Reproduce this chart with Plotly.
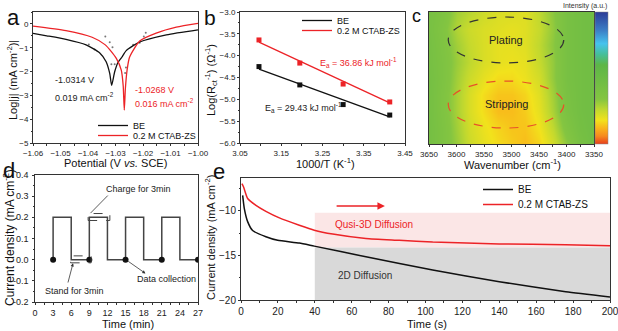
import plotly.graph_objects as go

# ---------------- data ----------------
# (a) Tafel curves
a_be_x = [-1.06, -1.055, -1.048, -1.0407, -1.0358, -1.0334, -1.0321, -1.0314, -1.0303, -1.0291, -1.0277, -1.0261, -1.0212, -1.0115, -1.00]
a_be_y = [-0.40, -0.50, -0.65, -0.88, -1.21, -1.59, -2.08, -2.58, -2.01, -1.62, -1.40, -1.12, -0.76, -0.46, -0.25]
a_ct_x = [-1.06, -1.048, -1.0385, -1.0337, -1.0297, -1.0279, -1.0272, -1.0268, -1.0264, -1.0258, -1.0249, -1.0212, -1.0152, -1.0079, -1.00]
a_ct_y = [-0.09, -0.28, -0.56, -0.88, -1.45, -1.94, -2.6, -3.62, -2.7, -1.95, -1.40, -0.72, -0.39, -0.14, 0.02]
a_raw_x = [-1.0397, -1.0376, -1.0337, -1.0321, -1.0311, -1.0303, -1.0315, -1.0262, -1.0265, -1.0236, -1.0212, -1.0197, -1.0190]
a_raw_y = [-0.86, -1.07, -0.53, -0.77, -0.98, -1.69, -1.69, -1.83, -2.06, -0.88, -0.79, -0.53, -0.37]

# (b) Arrhenius
b_x = [3.096, 3.195, 3.300, 3.413]
b_be_y = [-4.25, -4.67, -5.12, -5.36]
b_ct_y = [-3.64, -4.17, -4.65, -5.06]
b_fit_x = [3.096, 3.413]
b_be_fit = [-4.31, -5.40]
b_ct_fit = [-3.69, -5.08]

# (c) in-situ FTIR map
c_wn = [3650, 3625, 3600, 3575, 3550, 3525, 3500, 3475, 3450, 3425, 3400, 3375, 3350]
c_pos = [0.0, 0.125, 0.25, 0.375, 0.5, 0.625, 0.75, 0.875, 1.0]
c_z = [
    [0.44, 0.38, 0.31, 0.24, 0.20, 0.17, 0.15, 0.13, 0.16, 0.23, 0.33, 0.42, 0.47],
    [0.44, 0.38, 0.30, 0.23, 0.19, 0.16, 0.14, 0.14, 0.18, 0.26, 0.37, 0.44, 0.47],
    [0.44, 0.37, 0.29, 0.22, 0.17, 0.13, 0.13, 0.15, 0.20, 0.29, 0.40, 0.45, 0.47],
    [0.44, 0.37, 0.29, 0.22, 0.17, 0.14, 0.14, 0.16, 0.21, 0.30, 0.41, 0.45, 0.47],
    [0.44, 0.38, 0.30, 0.24, 0.20, 0.17, 0.17, 0.19, 0.23, 0.32, 0.42, 0.45, 0.47],
    [0.43, 0.38, 0.31, 0.26, 0.22, 0.20, 0.19, 0.20, 0.25, 0.32, 0.42, 0.45, 0.47],
    [0.43, 0.37, 0.30, 0.25, 0.22, 0.20, 0.20, 0.21, 0.26, 0.33, 0.42, 0.45, 0.47],
    [0.42, 0.36, 0.28, 0.24, 0.22, 0.21, 0.20, 0.21, 0.25, 0.32, 0.42, 0.45, 0.47],
    [0.42, 0.38, 0.30, 0.27, 0.24, 0.22, 0.22, 0.21, 0.26, 0.33, 0.42, 0.45, 0.47],
]

# (d) pulse protocol
d_t = [3, 3, 6, 9, 12, 15, 18, 21, 24, 27]
d_j = [0.0, 0.2, 0.0, 0.2, 0.0, 0.2, 0.0, 0.2, 0.0, 0.0]
d_pts_t = [3, 9, 15, 21, 27]
d_pts_j = [0, 0, 0, 0, 0]
d_yticks = [-0.2, -0.1, 0.0, 0.1, 0.2, 0.3, 0.4]
d_ytext = ["-0.2", "-0.1", "0.0", "0.1", "0.2", "0.3", "0.4"]

# (e) chronoamperometry
e_be_t = [0.9, 1.8, 3.6, 6.3, 13.5, 19.9, 31.6, 39.7, 67.7, 103.9, 140, 176, 200]
e_be_j = [-8.25, -9.74, -11.2, -12.2, -12.9, -13.3, -13.6, -13.95, -15.15, -16.64, -17.95, -19.07, -19.66]
e_ct_t = [0.5, 1.4, 3.6, 8.1, 13.5, 20.8, 31.6, 39.7, 49.7, 67.7, 85.8, 103.9, 140, 176, 200]
e_ct_j = [-6.94, -7.31, -8.6, -9.37, -10.04, -10.78, -11.6, -12.16, -12.6, -13.1, -13.3, -13.5, -13.7, -13.8, -13.9]

RED = "#ec2327"
BLK = "#111111"
FONT = "Liberation Sans, Arial, sans-serif"

fig = go.Figure()

# (a)
fig.add_trace(go.Scatter(x=a_raw_x, y=a_raw_y, mode="markers", marker=dict(size=2, color="#777"),
                         showlegend=False, xaxis="x", yaxis="y"))
fig.add_trace(go.Scatter(x=a_be_x, y=a_be_y, mode="lines", line=dict(color=BLK, width=1.3, shape="spline", smoothing=0.6),
                         name="BE", legend="legend", xaxis="x", yaxis="y"))
fig.add_trace(go.Scatter(x=a_ct_x, y=a_ct_y, mode="lines", line=dict(color=RED, width=1.3, shape="spline", smoothing=0.6),
                         name="0.2 M CTAB-ZS", legend="legend2", xaxis="x", yaxis="y"))

# (b)
fig.add_trace(go.Scatter(x=b_fit_x, y=b_be_fit, mode="lines", line=dict(color=BLK, width=1.3),
                         name="BE", legend="legend3", xaxis="x2", yaxis="y2"))
fig.add_trace(go.Scatter(x=b_fit_x, y=b_ct_fit, mode="lines", line=dict(color=RED, width=1.3),
                         name="0.2 M CTAB-ZS", legend="legend4", xaxis="x2", yaxis="y2"))
fig.add_trace(go.Scatter(x=b_x, y=b_be_y, mode="markers", marker=dict(symbol="square", size=5, color=BLK),
                         showlegend=False, xaxis="x2", yaxis="y2"))
fig.add_trace(go.Scatter(x=b_x, y=b_ct_y, mode="markers", marker=dict(symbol="square", size=5, color=RED),
                         showlegend=False, xaxis="x2", yaxis="y2"))

# (c)
cscale = [[0.0, "#e8401c"], [0.06, "#f68a1f"], [0.12, "#f9b51b"], [0.18, "#f2e21c"],
          [0.26, "#c0d82f"], [0.34, "#84c541"], [0.6, "#5db647"], [0.68, "#45bf9a"],
          [0.76, "#45c3ee"], [0.86, "#3c7fc6"], [1.0, "#2b3b97"]]
fig.add_trace(go.Heatmap(x=c_wn, y=c_pos, z=c_z, zmin=0, zmax=1, colorscale=cscale, zsmooth="best",
                         xaxis="x3", yaxis="y3",
                         colorbar=dict(x=595/618, xanchor="left", xref="paper", y=1-12/331, yanchor="top",
                                       len=132/331, lenmode="fraction", thickness=13, showticklabels=False,
                                       ticks="", outlinewidth=0.5, outlinecolor="#888", xpad=0, ypad=0)))

# (d)
fig.add_trace(go.Scatter(x=d_t, y=d_j, mode="lines", line=dict(color="#444", width=1.5, shape="hv"),
                         showlegend=False, xaxis="x4", yaxis="y4"))
fig.add_trace(go.Scatter(x=d_pts_t, y=d_pts_j, mode="markers", marker=dict(size=6, color="#111"),
                         showlegend=False, xaxis="x4", yaxis="y4"))

# (e)
fig.add_trace(go.Scatter(x=e_be_t, y=e_be_j, mode="lines", line=dict(color=BLK, width=1.5, shape="spline", smoothing=0.5),
                         name="BE", legend="legend5", xaxis="x5", yaxis="y5"))
fig.add_trace(go.Scatter(x=e_ct_t, y=e_ct_j, mode="lines", line=dict(color=RED, width=1.5, shape="spline", smoothing=0.5),
                         name="0.2 M CTAB-ZS", legend="legend6", xaxis="x5", yaxis="y5"))


def ax(domain, rng, dtick, fmt=None, minor=None, tickfont=8, **kw):
    d = dict(domain=domain, range=rng, autorange=False, showline=True, linecolor="#333", linewidth=1,
             mirror=True, ticks="outside", ticklen=2, tickwidth=1, tickcolor="#333", showgrid=False,
             zeroline=False, tickfont=dict(size=tickfont, color="#222", family=FONT), showticklabels=True,
             ticklabeloverflow="allow", automargin=False)
    if dtick is not None:
        d["dtick"] = dtick
        d["tick0"] = 0
    if fmt:
        d["tickformat"] = fmt
    if minor:
        d["minor"] = dict(dtick=minor, tick0=0, ticks="outside", ticklen=1.5, tickcolor="#333", showgrid=False)
    d.update(kw)
    return d


def leg(xpx, ypx, size):
    return dict(x=xpx/618, y=1-ypx/331, xanchor="left", yanchor="top", bgcolor="rgba(0,0,0,0)",
                font=dict(size=size, color="#111"), itemwidth=30, orientation="v")


Ya_top = 1 - 12/331
D_TOP, D_BOT = 175, 302
D_RANGE = [-0.2, 0.4]
fig.update_layout(
    width=618, height=331, margin=dict(l=0, r=0, t=0, b=0),
    paper_bgcolor="white", plot_bgcolor="white",
    font=dict(family=FONT, color="#111"),
    xaxis=ax([33/618, 198/618], [-1.06, -1.00], 0.01, ".2f", 0.005, anchor="y"),
    yaxis=ax([1-143/331, Ya_top], [-5, 0.5], 1, None, 0.5, anchor="x"),
    xaxis2=ax([240/618, 405/618], [3.05, 3.45], 0.1, ".2f", 0.05, anchor="y2", tick0=3.05),
    yaxis2=ax([1-143/331, Ya_top], [-6, -3], 0.5, ".1f", 0.25, anchor="x2"),
    xaxis3=ax([429/618, 594/618], [3650, 3350], 50, None, 25, anchor="y3"),
    yaxis3=ax([1-144/331, Ya_top], [0, 1], 1, None, None, anchor="x3", showticklabels=False, ticks=""),
    xaxis4=ax([35/618, 198/618], [0, 27], 3, None, 1.5, tickfont=9, anchor="y4"),
    yaxis4=ax([1-D_BOT/331, 1-D_TOP/331], D_RANGE, None, None, 0.05, tickfont=9,
              anchor="x4", tickmode="array", tickvals=d_yticks, showticklabels=False),
    xaxis5=ax([241/618, 610/618], [0, 200], 20, None, 10, tickfont=10, anchor="y5"),
    yaxis5=ax([1-300/331, 1-178/331], [-20, -6.3], 5, None, 2.5, tickfont=10, anchor="x5"),
    legend=leg(93, 111, 9), legend2=leg(93, 121, 9),
    legend3=leg(297, 6, 9), legend4=leg(297, 16, 9),
    legend5=leg(478, 175, 10), legend6=leg(478, 190, 10),
)


def ptxt(text, xpx, ypx, size, angle=0, color="#111", xanchor="center"):
    return dict(text=text, x=xpx/618, y=1-ypx/331, xref="paper", yref="paper", showarrow=False,
                font=dict(size=size, color=color), xanchor=xanchor, yanchor="middle", textangle=angle)


ann = []
# panel letters
for txt, x, y, s in [("a", 13, 17, 22), ("b", 210, 17, 21), ("c", 416, 16, 18), ("d", 9, 170, 22), ("e", 219, 171, 22)]:
    ann.append(ptxt(txt, x, y, s))
# axis titles
ann += [
    ptxt("Potential (V <i>vs.</i> SCE)", 115, 163, 11),
    ptxt("Log|j| (mA cm<sup>-2</sup>)|", 12, 80, 11, -90),
    ptxt("1000/T (K<sup>-1</sup>)", 325, 163, 11),
    ptxt("Log(R<sub>ct</sub><sup>-1</sup>) (Ω<sup>-1</sup>)", 211, 80, 11, -90),
    ptxt("Wavenumber (cm<sup>-1</sup>)", 512, 164, 11),
    ptxt("Time (min)", 128, 324, 11),
    ptxt("Current density (mA cm<sup>-2</sup>)", 9, 238, 12, -90),
    ptxt("Time (s)", 427, 324, 11),
    ptxt("Current density (mA cm<sup>-2</sup>)", 210, 238, 11, -90),
]
# (d) y tick labels, placed along the d axis (value -> pixel on the same linear scale)
for v, t in zip(d_yticks, d_ytext):
    ypx = D_BOT - (v - D_RANGE[0]) / (D_RANGE[1] - D_RANGE[0]) * (D_BOT - D_TOP)
    ann.append(ptxt(t, 31, ypx, 9, color="#222", xanchor="right"))
# (a) texts
ann += [
    dict(text="-1.0314 V", x=-1.0527, y=-2.35, xref="x", yref="y", xanchor="left", showarrow=False, font=dict(size=9, color="#222")),
    dict(text="0.019 mA cm<sup>-2</sup>", x=-1.0527, y=-3.07, xref="x", yref="y", xanchor="left", showarrow=False, font=dict(size=9, color="#222")),
    dict(text="-1.0268 V", x=-1.0236, y=-2.77, xref="x", yref="y", xanchor="left", showarrow=False, font=dict(size=9, color=RED)),
    dict(text="0.016 mA cm<sup>-2</sup>", x=-1.0236, y=-3.33, xref="x", yref="y", xanchor="left", showarrow=False, font=dict(size=9, color=RED)),
]
# (b) texts
ann += [
    dict(text="E<sub>a</sub> = 36.86 kJ mol<sup>-1</sup>", x=3.239, y=-4.15, xref="x2", yref="y2", xanchor="left", showarrow=False, font=dict(size=9, color=RED)),
    dict(text="E<sub>a</sub> = 29.43 kJ mol<sup>-1</sup>", x=3.106, y=-5.19, xref="x2", yref="y2", xanchor="left", showarrow=False, font=dict(size=9, color="#222")),
]
# (c) texts
ann += [
    dict(text="Plating", x=3510, y=0.79, xref="x3", yref="y3", showarrow=False, font=dict(size=11, color="#222")),
    dict(text="Stripping", x=3510, y=0.30, xref="x3", yref="y3", showarrow=False, font=dict(size=11, color="#222")),
    ptxt("Intensity (a.u.)", 609, 6, 7, color="#333", xanchor="right"),
]
# (d) texts with arrows
ann += [
    dict(text="Charge for 3min", x=17.2, y=0.335, xref="x4", yref="y4", showarrow=False, font=dict(size=9, color="#222")),
    dict(text="", x=9.2, y=0.22, ax=12.3, ay=0.31, xref="x4", yref="y4", axref="x4", ayref="y4", showarrow=True,
         arrowhead=0, arrowwidth=0.8, arrowcolor="#333"),
    dict(text="Stand for 3min", x=6.6, y=-0.146, xref="x4", yref="y4", showarrow=False, font=dict(size=9, color="#222")),
    dict(text="", x=6.3, y=-0.017, ax=5.4, ay=-0.115, xref="x4", yref="y4", axref="x4", ayref="y4", showarrow=True,
         arrowhead=2, arrowsize=0.8, arrowwidth=0.8, arrowcolor="#333"),
    dict(text="Data collection", x=21.8, y=-0.092, xref="x4", yref="y4", showarrow=False, font=dict(size=9, color="#222")),
    dict(text="", x=18.3, y=-0.065, ax=15.2, ay=-0.003, xref="x4", yref="y4", axref="x4", ayref="y4", showarrow=True,
         arrowhead=2, arrowsize=0.8, arrowwidth=0.8, arrowcolor="#333"),
]
# (e) texts
ann += [
    dict(text="", x=78, y=-9.44, ax=51, ay=-9.44, xref="x5", yref="y5", axref="x5", ayref="y5", showarrow=True,
         arrowhead=2, arrowsize=1, arrowwidth=1.5, arrowcolor=RED),
    dict(text="Qusi-3D Diffusion", x=72, y=-11.5, xref="x5", yref="y5", showarrow=False, font=dict(size=10, color=RED)),
    dict(text="2D Diffusion", x=67, y=-17.2, xref="x5", yref="y5", showarrow=False, font=dict(size=10, color="#333")),
]
fig.update_layout(annotations=ann)

shapes = [
    dict(type="circle", xref="x3", yref="y3", x0=3615, x1=3405, y0=0.614, y1=0.962, line=dict(color="#333", width=1.2, dash="dash")),
    dict(type="circle", xref="x3", yref="y3", x0=3615, x1=3405, y0=0.121, y1=0.477, line=dict(color="#e8502a", width=1.2, dash="dash")),
    dict(type="rect", xref="x4", yref="y4", x0=8.8, x1=12.4, y0=0.185, y1=0.218, line=dict(color="#444", width=1, dash="dash")),
    dict(type="rect", xref="x4", yref="y4", x0=5.9, x1=9.3, y0=-0.015, y1=0.018, line=dict(color="#444", width=1, dash="dash")),
    dict(type="rect", xref="x5", yref="y5", x0=40, x1=200, y0=-14.1, y1=-10.2, fillcolor="rgba(248,205,205,0.5)", line=dict(width=0), layer="below"),
    dict(type="rect", xref="x5", yref="y5", x0=40, x1=200, y0=-20, y1=-14.1, fillcolor="#d9d9d9", line=dict(width=0), layer="below"),
]
fig.update_layout(shapes=shapes)

fig.write_html("out.html")
